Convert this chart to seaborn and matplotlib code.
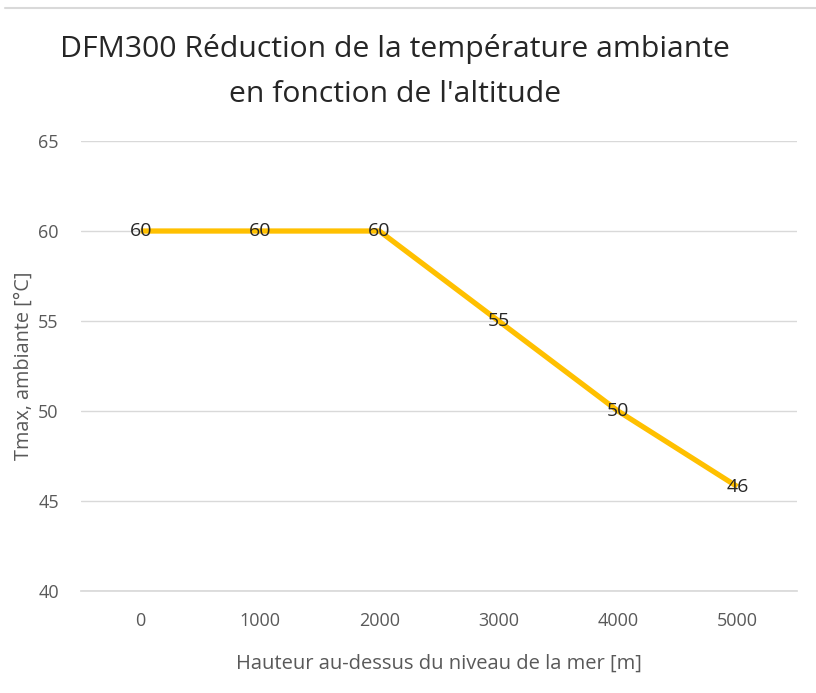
import pandas as pd
import matplotlib.pyplot as plt
from matplotlib.lines import Line2D
import seaborn as sns

altitudes = [0, 1000, 2000, 3000, 4000, 5000]
tmax = [60, 60, 60, 55, 50, 45.8]
y_ticks = [40, 45, 50, 55, 60, 65]

title = "DFM300 Réduction de la température ambiante\nen fonction de l'altitude"
x_label = "Hauteur au-dessus du niveau de la mer [m]"
y_label = "Tmax, ambiante [°C]"


def main():
    df = pd.DataFrame({"altitude": altitudes, "tmax": tmax})

    sns.set_theme(style="white")
    plt.rcParams["font.family"] = ["Open Sans", "DejaVu Sans"]

    fig = plt.figure(figsize=(8.16, 6.93), dpi=100)
    ax = fig.add_axes([0.0993, 0.1472, 0.8774, 0.6493])

    sns.lineplot(data=df, x="altitude", y="tmax", ax=ax, color="#FFC000",
                 linewidth=3.8, solid_capstyle="butt", zorder=3)

    # data labels, rounded like the excel chart
    for x, y in zip(df["altitude"], df["tmax"]):
        ax.text(x, y, f"{y:.0f}", ha="center", va="center", fontsize=14,
                color="#262626", zorder=4)

    ax.set_xlim(-500, 5500)
    ax.set_ylim(40, 65)
    ax.set_xticks(altitudes)
    ax.set_yticks(y_ticks)
    ax.grid(axis="y", color="#D9D9D9", linewidth=1.0)
    ax.grid(axis="x", visible=False)
    for s in ["top", "right", "left"]:
        ax.spines[s].set_visible(False)
    ax.spines["bottom"].set_color("#D9D9D9")
    ax.tick_params(axis="both", length=0, labelsize=13, labelcolor="#595959")
    ax.tick_params(axis="x", pad=15)
    ax.tick_params(axis="y", pad=16)

    ax.set_xlabel(x_label, fontsize=14.5, color="#595959", labelpad=17)
    ax.set_ylabel(y_label, fontsize=14.3, color="#595959", labelpad=3)

    fig.text(0.484, 0.951, title, ha="center", va="top", fontsize=21.7,
             color="#262626", linespacing=1.72)

    # thin border line at the top of the chart area
    fig.add_artist(Line2D([0.006, 1.0], [0.988, 0.988], color="#D9D9D9",
                          linewidth=1.5, transform=fig.transFigure))

    fig.savefig("out.png", dpi=100)


if __name__ == "__main__":
    main()
